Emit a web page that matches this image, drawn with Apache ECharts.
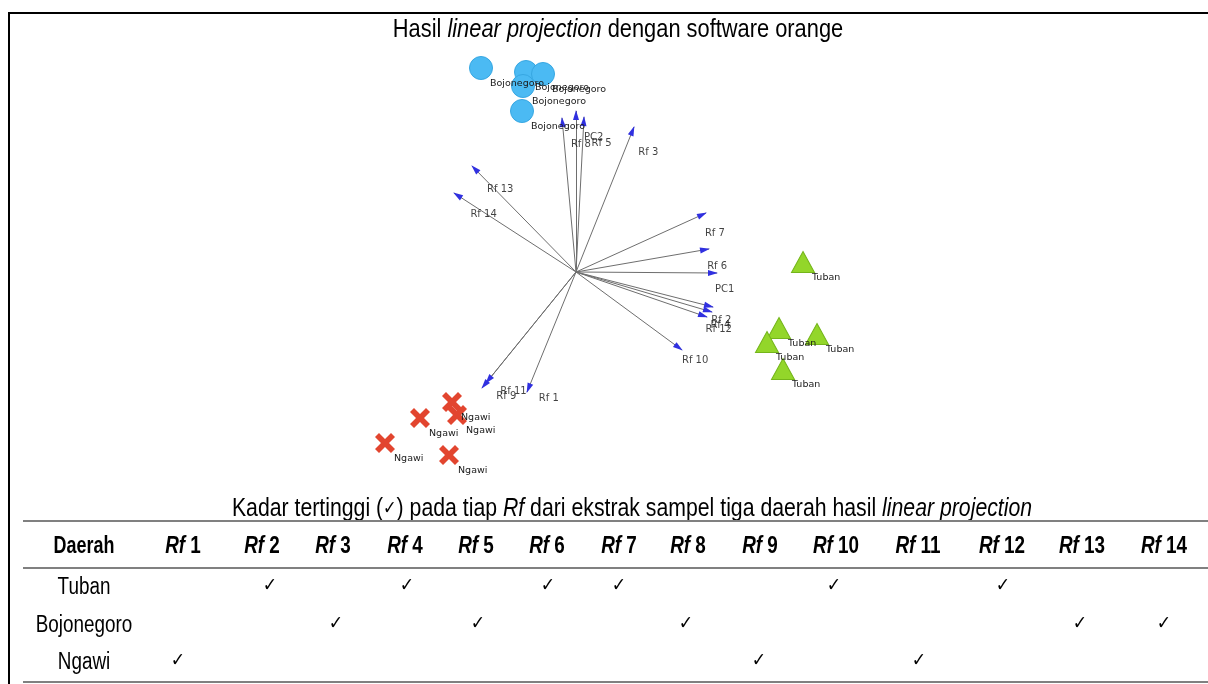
<!DOCTYPE html>
<html>
<head>
<meta charset="utf-8">
<script src="https://cdn.jsdelivr.net/npm/echarts@6/dist/echarts.min.js"></script>
<style>
  html, body { margin: 0; padding: 0; background: #fff; }
  #chart { width: 1208px; height: 684px; }
</style>
</head>
<body>
<div id="chart"></div>
<script>
// Anchor vectors of the linear projection (feature directions)
const anchorNames = ['PC1', 'PC2', 'Rf 1', 'Rf 2', 'Rf 3', 'Rf 4', 'Rf 5', 'Rf 6', 'Rf 7', 'Rf 8', 'Rf 9', 'Rf 10', 'Rf 11', 'Rf 12', 'Rf 13', 'Rf 14'];
const anchorX = [1.41, 0.00, -0.49, 1.37, 0.58, 1.36, 0.08, 1.33, 1.30, -0.14, -0.94, 1.06, -0.90, 1.31, -1.04, -1.22];
const anchorY = [-0.01, 1.61, -1.20, -0.35, 1.45, -0.40, 1.55, 0.23, 0.59, 1.54, -1.16, -0.78, -1.11, -0.45, 1.06, 0.79];

// Projected samples, one pair of arrays per region
const bojonegoroX = [-0.95, -0.50, -0.33, -0.53, -0.54];
const bojonegoroY = [2.04, 2.00, 1.98, 1.86, 1.61];
const tubanX = [2.27, 2.03, 2.41, 1.91, 2.07];
const tubanY = [0.10, -0.56, -0.62, -0.70, -0.97];
const ngawiX = [-1.24, -1.19, -1.56, -1.91, -1.27];
const ngawiY = [-1.30, -1.43, -1.46, -1.71, -1.83];

// Summary table: which Rf has the highest level for each region
const tableRegions = ['Tuban', 'Bojonegoro', 'Ngawi'];
const rfNumbers = [1, 2, 3, 4, 5, 6, 7, 8, 9, 10, 11, 12, 13, 14];
const tubanHighest = [2, 4, 6, 7, 10, 12];
const bojonegoroHighest = [3, 5, 8, 13, 14];
const ngawiHighest = [1, 9, 11];
const highestByRegion = [tubanHighest, bojonegoroHighest, ngawiHighest];

// Table geometry (header text centres and body cell centres)
const tableFirstColX = 84;
const tableHeadColX = [183, 262, 333, 405, 476, 547, 619, 688, 760, 836, 918, 1002, 1082, 1164];
const tableCellColX = [178, 270, 336, 407, 478, 548, 619, 686, 759, 834, 919, 1003, 1080, 1164];
const tableHeaderY = 547;
const tableRowY = [588, 626, 663];

const SANS = "'Liberation Sans',Arial,sans-serif";
const SMALL = "Tahoma,'DejaVu Sans',Verdana,sans-serif";
const SYMBOL_FONT = "'DejaVu Sans',sans-serif";
const NARROW_SCALE = 0.82;
const CROSS = 'path://M2,0L5,3L8,0L10,2L7,5L10,8L8,10L5,7L2,10L0,8L3,5L0,2Z';

const zip = (xs, ys) => xs.map((x, i) => [x, ys[i]]);

// unit direction of each anchor
const anchorDir = anchorX.map((x, i) => {
  const y = anchorY[i];
  const len = Math.hypot(x, y) || 1;
  return [x / len, y / len];
});

const pointLabel = (name) => ({
  show: true,
  formatter: name,
  position: 'inside',
  align: 'left',
  verticalAlign: 'middle',
  offset: [9, 16],
  fontFamily: SMALL,
  fontSize: 9.5,
  color: '#1a1a1a'
});

const graphics = [];
// frame
graphics.push({ type: 'line', shape: { x1: 8, y1: 13, x2: 1208, y2: 13 }, style: { stroke: '#000', lineWidth: 2 } });
graphics.push({ type: 'line', shape: { x1: 9, y1: 12, x2: 9, y2: 684 }, style: { stroke: '#000', lineWidth: 2 } });

// chart heading (condensed face)
graphics.push({
  type: 'text', x: 618, y: 30, scaleX: 0.84,
  style: {
    text: '{n|Hasil }{i|linear projection}{n| dengan software orange}',
    align: 'center', verticalAlign: 'middle',
    rich: {
      n: { fontFamily: SANS, fontSize: 26, fill: '#000' },
      i: { fontFamily: SANS, fontSize: 26, fontStyle: 'italic', fill: '#000' }
    }
  }
});

// table caption
graphics.push({
  type: 'text', x: 632, y: 509, scaleX: 0.85,
  style: {
    text: '{n|Kadar tertinggi (}{s|\u2713}{n|) pada tiap }{i|Rf}{n| dari ekstrak sampel tiga daerah hasil }{i|linear projection}',
    align: 'center', verticalAlign: 'middle',
    rich: {
      n: { fontFamily: SANS, fontSize: 25, fill: '#000' },
      i: { fontFamily: SANS, fontSize: 25, fontStyle: 'italic', fill: '#000' },
      s: { fontFamily: SYMBOL_FONT, fontSize: 19, fill: '#000' }
    }
  }
});

// table rules
[521, 568, 682].forEach(y => {
  graphics.push({ type: 'line', shape: { x1: 23, y1: y, x2: 1208, y2: y }, style: { stroke: '#808080', lineWidth: 2 } });
});

// table header
graphics.push({
  type: 'text', x: tableFirstColX, y: tableHeaderY, scaleX: 0.78,
  style: { text: 'Daerah', font: 'bold 23px ' + SANS, fill: '#000', align: 'center', verticalAlign: 'middle' }
});
rfNumbers.forEach((n, i) => {
  graphics.push({
    type: 'text', x: tableHeadColX[i], y: tableHeaderY, scaleX: NARROW_SCALE,
    style: {
      text: '{i|Rf}{b| ' + n + '}',
      align: 'center', verticalAlign: 'middle',
      rich: {
        i: { fontFamily: SANS, fontSize: 23, fontWeight: 'bold', fontStyle: 'italic', fill: '#000' },
        b: { fontFamily: SANS, fontSize: 23, fontWeight: 'bold', fill: '#000' }
      }
    }
  });
});

// table body
tableRegions.forEach((region, r) => {
  graphics.push({
    type: 'text', x: tableFirstColX, y: tableRowY[r], scaleX: NARROW_SCALE,
    style: { text: region, font: '23px ' + SANS, fill: '#000', align: 'center', verticalAlign: 'middle' }
  });
  highestByRegion[r].forEach(n => {
    graphics.push({
      type: 'text', x: tableCellColX[n - 1], y: tableRowY[r] - 2, scaleX: 0.9,
      style: { text: '\u2713', font: '19px ' + SYMBOL_FONT, fill: '#000', align: 'center', verticalAlign: 'middle' }
    });
  });
});

const option = {
  animation: false,
  backgroundColor: '#fff',
  grid: { left: 276, top: 32, width: 600, height: 460, show: false },
  xAxis: { type: 'value', min: -3, max: 3, show: false },
  yAxis: { type: 'value', min: -2.2, max: 2.4, show: false },
  series: [
    {
      name: 'anchors',
      type: 'lines',
      coordinateSystem: 'cartesian2d',
      z: 1,
      silent: true,
      lineStyle: { color: '#6e6e6e', width: 1, opacity: 1, curveness: 0 },
      data: anchorX.map((x, i) => ({ coords: [[0, 0], [x, anchorY[i]]] }))
    },
    {
      name: 'arrowheads',
      type: 'scatter',
      z: 2,
      silent: true,
      symbol: 'triangle',
      symbolSize: [6, 10],
      itemStyle: { color: '#3030e0', opacity: 1 },
      data: anchorX.map((x, i) => {
        const [ux, uy] = anchorDir[i];
        return {
          value: [x - ux * 0.04, anchorY[i] - uy * 0.04],
          symbolRotate: Math.atan2(uy, ux) * 180 / Math.PI - 90
        };
      })
    },
    {
      name: 'anchor labels',
      type: 'scatter',
      z: 3,
      silent: true,
      symbolSize: 1,
      itemStyle: { color: 'rgba(0,0,0,0)' },
      data: anchorX.map((x, i) => {
        const [ux, uy] = anchorDir[i];
        return {
          value: [x, anchorY[i]],
          label: {
            show: true,
            formatter: anchorNames[i],
            position: 'inside',
            align: 'left',
            verticalAlign: 'middle',
            offset: [8 - 10 * ux, 16 + 10 * uy],
            fontFamily: SMALL,
            fontSize: 10,
            color: '#111'
          }
        };
      })
    },
    {
      name: 'Bojonegoro',
      type: 'scatter',
      z: 4,
      symbol: 'circle',
      symbolSize: 23,
      itemStyle: { color: '#4bbaf3', borderColor: '#37a7e2', borderWidth: 1, opacity: 1 },
      label: pointLabel('Bojonegoro'),
      data: zip(bojonegoroX, bojonegoroY)
    },
    {
      name: 'Tuban',
      type: 'scatter',
      z: 4,
      symbol: 'triangle',
      symbolSize: [23, 21],
      itemStyle: { color: '#93d62a', borderColor: '#74b51a', borderWidth: 1, opacity: 1 },
      label: pointLabel('Tuban'),
      data: zip(tubanX, tubanY)
    },
    {
      name: 'Ngawi',
      type: 'scatter',
      z: 4,
      symbol: CROSS,
      symbolSize: 20,
      itemStyle: { color: '#e2452f', opacity: 1 },
      label: pointLabel('Ngawi'),
      data: zip(ngawiX, ngawiY)
    }
  ],
  graphic: graphics
};

const chart = echarts.init(document.getElementById('chart'), null, { renderer: 'canvas' });
chart.setOption(option);
</script>
</body>
</html>
